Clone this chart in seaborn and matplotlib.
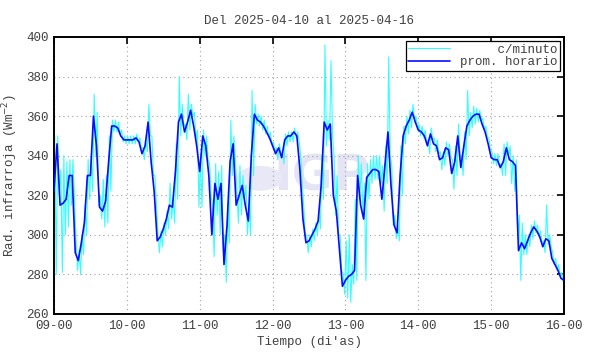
import pandas as pd
import numpy as np
import seaborn as sns
import matplotlib.pyplot as plt
import matplotlib.dates as mdates
from matplotlib.patches import Circle

# promedio horario (Wm-2), una fila por dia, desde 2025-04-09 00h
horario = [
    322, 346, 315, 316, 318, 330, 330, 291, 287, 296, 306, 330, 330, 360, 345, 314, 312, 317, 337, 355, 355, 354, 350, 348,
    348, 348, 348, 349, 347, 341, 345, 357, 337, 322, 297, 299, 303, 308, 315, 314, 332, 357, 361, 352, 357, 363, 355, 345,
    332, 350, 345, 330, 300, 326, 318, 326, 285, 305, 337, 346, 315, 320, 325, 315, 307, 340, 361, 358, 357, 355, 352, 349,
    345, 341, 344, 339, 348, 350, 350, 352, 350, 333, 308, 296, 297, 300, 303, 307, 325, 357, 353, 356, 320, 312, 293, 274,
    277, 279, 280, 282, 330, 315, 308, 329, 331, 333, 333, 332, 318, 335, 352, 325, 305, 301, 330, 350, 355, 358, 362, 357,
    353, 352, 350, 345, 351, 346, 345, 338, 339, 344, 343, 331, 337, 350, 334, 345, 355, 358, 360, 361, 361, 356, 352, 346,
    339, 338, 338, 334, 337, 344, 338, 337, 335, 292, 296, 293, 297, 301, 304, 302, 299, 294, 298, 297, 288, 285, 282, 278,
    277,
]

# c/minuto: maximo y minimo de cada hora
minuto_max = [
    350, 350, 333, 340, 337, 338, 338, 298, 292, 300, 315, 338, 340, 371, 362, 320, 328, 330, 350, 358, 358, 357, 353, 350,
    350, 350, 350, 351, 349, 344, 348, 366, 350, 330, 300, 302, 306, 312, 326, 318, 346, 380, 366, 356, 371, 366, 362, 353,
    340, 353, 350, 336, 315, 336, 332, 335, 300, 316, 358, 350, 322, 335, 330, 325, 315, 373, 366, 361, 360, 358, 355, 352,
    347, 344, 346, 342, 351, 352, 352, 354, 352, 340, 315, 300, 300, 303, 306, 312, 340, 396, 358, 388, 340, 330, 300, 280,
    297, 300, 285, 318, 340, 336, 326, 336, 338, 340, 340, 340, 335, 345, 390, 335, 310, 305, 345, 355, 360, 363, 366, 360,
    356, 355, 353, 348, 354, 349, 348, 342, 342, 347, 346, 338, 345, 356, 340, 352, 373, 362, 365, 364, 363, 359, 355, 349,
    342, 341, 341, 336, 346, 347, 345, 340, 338, 310, 306, 300, 300, 305, 307, 305, 302, 297, 315, 300, 291, 288, 285, 281,
]
minuto_min = [
    280, 320, 281, 300, 304, 315, 318, 282, 280, 290, 300, 318, 322, 340, 315, 308, 304, 306, 322, 352, 352, 351, 347, 346,
    346, 346, 346, 347, 344, 338, 342, 350, 330, 315, 291, 294, 300, 303, 308, 306, 318, 350, 355, 348, 353, 360, 348, 314,
    314, 340, 338, 320, 289, 310, 300, 292, 276, 296, 330, 338, 306, 310, 318, 300, 300, 330, 356, 355, 353, 351, 349, 346,
    342, 338, 341, 336, 345, 347, 347, 349, 347, 325, 300, 291, 294, 297, 300, 303, 318, 345, 348, 350, 310, 300, 282, 270,
    268, 266, 275, 277, 318, 310, 277, 318, 326, 328, 328, 326, 312, 326, 340, 305, 298, 297, 320, 346, 351, 354, 358, 353,
    350, 349, 347, 341, 348, 342, 341, 333, 335, 340, 339, 323, 330, 340, 330, 338, 350, 354, 356, 357, 358, 353, 349, 343,
    336, 335, 335, 330, 330, 340, 326, 322, 300, 277, 290, 290, 294, 298, 301, 299, 296, 291, 295, 294, 285, 282, 279, 276,
]

inicio = pd.Timestamp("2025-04-09 00:00")
df_h = pd.DataFrame({
    "tiempo": inicio + pd.to_timedelta(np.arange(len(horario)), unit="h"),
    "rad": horario,
})

# intercalar max (hh:15) y min (hh:45)
t_min = []
v_min = []
for i in range(len(minuto_max)):
    t_min += [inicio + pd.Timedelta(hours=i, minutes=15), inicio + pd.Timedelta(hours=i, minutes=45)]
    v_min += [minuto_max[i], minuto_min[i]]
df_m = pd.DataFrame({"tiempo": t_min, "rad": v_min})

sns.set_style("white")
plt.rcParams["font.family"] = ["Liberation Mono", "DejaVu Sans Mono"]
plt.rcParams["font.size"] = 9

fig = plt.figure(figsize=(5.9, 3.54), dpi=100)
ax = fig.add_axes([0.0915, 0.113, 0.8645, 0.7825])

# marca de agua
ax.text(0.525, 0.495, "IGP", transform=ax.transAxes, ha="center", va="center",
        fontsize=36, fontweight="bold", family="DejaVu Sans", color="#e4e4f4", zorder=0)
ax.add_patch(Circle((0.403, 0.49), 0.045, transform=ax.transAxes, facecolor="#e8e8f6",
                    edgecolor="none", zorder=0))

sns.lineplot(data=df_m, x="tiempo", y="rad", color="#33ffff", linewidth=0.8,
             label="     c/minuto", ax=ax, zorder=2)
sns.lineplot(data=df_h, x="tiempo", y="rad", color="#0a0aff", linewidth=1.2,
             label="prom. horario", ax=ax, zorder=3)

ax.set_xlim(inicio, inicio + pd.Timedelta(days=7))
ax.set_ylim(260, 400)
ax.set_yticks(range(260, 401, 20))
ax.xaxis.set_major_locator(mdates.DayLocator())
ax.xaxis.set_major_formatter(mdates.DateFormatter("%d-%H"))

ax.grid(True, color="#a0a0a0", linestyle=(0, (1, 3)), linewidth=0.8)
ax.tick_params(direction="in", length=5, width=1.2, top=True, right=True,
               labelsize=9, colors="black", labelcolor="#404040", pad=4)
for s in ax.spines.values():
    s.set_color("black")
    s.set_linewidth(1.4)

ax.set_title("Del 2025-04-10 al 2025-04-16", fontsize=9, color="#404040", pad=9)
ax.set_xlabel("Tiempo (di'as)", fontsize=9, color="#404040", labelpad=3)
ax.set_ylabel("Rad. infrarroja (Wm$^{-2}$)", fontsize=9, color="#404040", labelpad=4)

leg = ax.legend(loc="upper right", fancybox=False, edgecolor="black", framealpha=1,
                handlelength=3.3, borderpad=0.2, labelspacing=0.05, handletextpad=0.8,
                borderaxespad=0.35, fontsize=9)
leg.get_frame().set_linewidth(0.9)
for t in leg.get_texts():
    t.set_color("#404040")

fig.savefig("out.png", dpi=100)
